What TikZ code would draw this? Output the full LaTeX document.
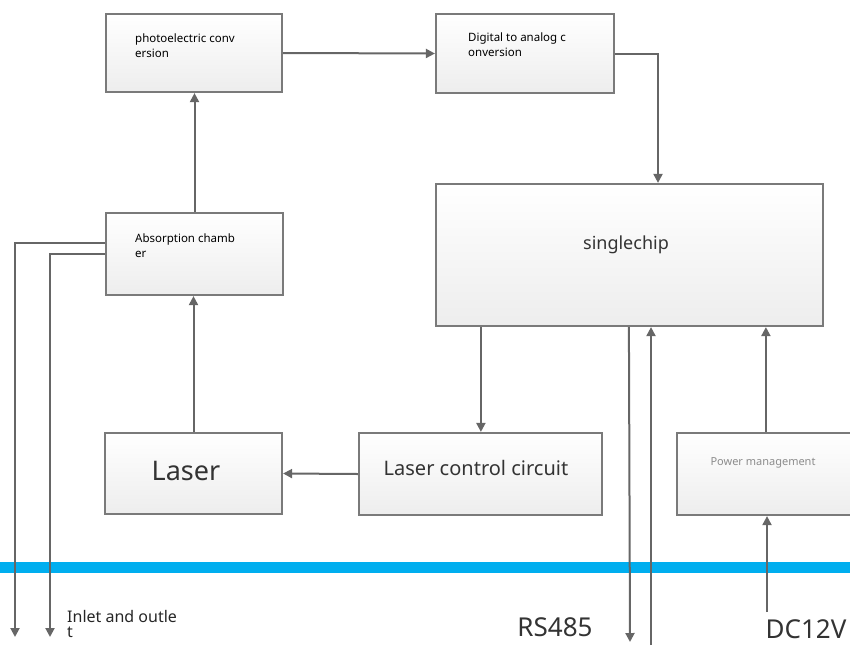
\documentclass[tikz,border=0pt]{standalone}
\usepackage{fontspec}
\setmainfont{Noto Sans}
\usetikzlibrary{arrows.meta,calc}
\definecolor{ln}{HTML}{666666}
\definecolor{bd}{HTML}{7A7A7A}
\definecolor{barc}{HTML}{00AEEF}
\tikzset{
  box/.style={draw=bd, line width=2.2pt, rectangle, top color=white, bottom color=black!7, inner sep=0pt},
  conn/.style={draw=ln, line width=2pt, -{Triangle[width=9pt,length=9pt]}},
  tinytxt/.style={font=\fontsize{11.5}{15}\selectfont, align=left, anchor=north west, inner sep=0pt, text=black},
  bigtxt/.style={inner sep=0pt, text=black!80},
}
\begin{document}
\begin{tikzpicture}[x=1pt,y=-1pt]
\useasboundingbox (0,0) rectangle (850,645);
\fill[barc] (0,562) rectangle (850,573);

% boxes
\node[box, minimum width=176pt, minimum height=78pt] (pe) at (194,53) {};
\node[box, minimum width=178pt, minimum height=79pt] (da) at (525,53.5) {};
\node[box, minimum width=177pt, minimum height=82pt] (ab) at (194.5,254) {};
\node[box, minimum width=387pt, minimum height=142pt] (sc) at (629.5,255) {};
\node[box, minimum width=177pt, minimum height=81pt] (la) at (193.5,473.5) {};
\node[box, minimum width=243pt, minimum height=82pt] (lc) at (480.5,474) {};
\node[box, minimum width=190pt, minimum height=82pt] (pm) at (772,474) {};

% texts
\node[tinytxt] (tpe) at (135,34) {photoelectric conv\\ersion};
\node[tinytxt] (tda) at (468,33) {Digital to analog c\\onversion};
\node[tinytxt] (tab) at (135,234) {Absorption chamb\\er};
\node[bigtxt, font=\fontsize{18}{20}\selectfont] (tsc) at (626,245) {singlechip};
\node[bigtxt, font=\fontsize{27}{30}\selectfont] (tla) at (186,471) {Laser};
\node[bigtxt, font=\fontsize{20}{22}\selectfont] (tlc) at (476,468) {Laser control circuit};
\node[bigtxt, font=\fontsize{11}{12}\selectfont, text=black!45] (tpm) at (763,463) {Power management};
\node[anchor=north west, inner sep=0pt, align=left, font=\fontsize{16}{15}\selectfont, text=black!85] (tin) at (67,610) {Inlet and outle\\t};
\node[bigtxt, font=\fontsize{26}{30}\selectfont] (trs) at (555,627) {RS485};
\node[bigtxt, font=\fontsize{26}{30}\selectfont] (tdc) at (806,629) {DC12V};

% free ends and attachment points
\coordinate (o1) at (15,637);
\coordinate (o2) at (50,637);
\coordinate (rs) at (630,642);
\coordinate (rsin) at (651,645);
\coordinate (dc) at (767,612);
\coordinate (scin) at ($(sc.north)+(28.5,0)$);
\coordinate (scout) at ($(sc.south west)+(46,0)$);
\coordinate (scrs) at ($(sc.south west)+(194,0)$);
\coordinate (pmout) at ($(pm.north west)+(90,0)$);
\coordinate (abo1) at ($(ab.west)+(0,-11)$);

% connectors
\draw[conn] (pe.east) -- (da.west);
\draw[conn] (da.east) -| (scin);
\draw[conn] (ab.north) -- (ab.north |- pe.south);
\draw[conn] (la.north) -- (la.north |- ab.south);
\draw[conn] (lc.west) -- (la.east);
\draw[conn] (scout) -- (scout |- lc.north);
\draw[conn] (pmout) -- (pmout |- sc.south);
\draw[conn] (dc) -- (dc |- pm.south);
\draw[conn] (scrs) -- (rs);
\draw[conn] (rsin) -- (rsin |- sc.south);
\draw[conn] (abo1) -| (o1);
\draw[conn] (ab.west) -| (o2);
\end{tikzpicture}
\end{document}
